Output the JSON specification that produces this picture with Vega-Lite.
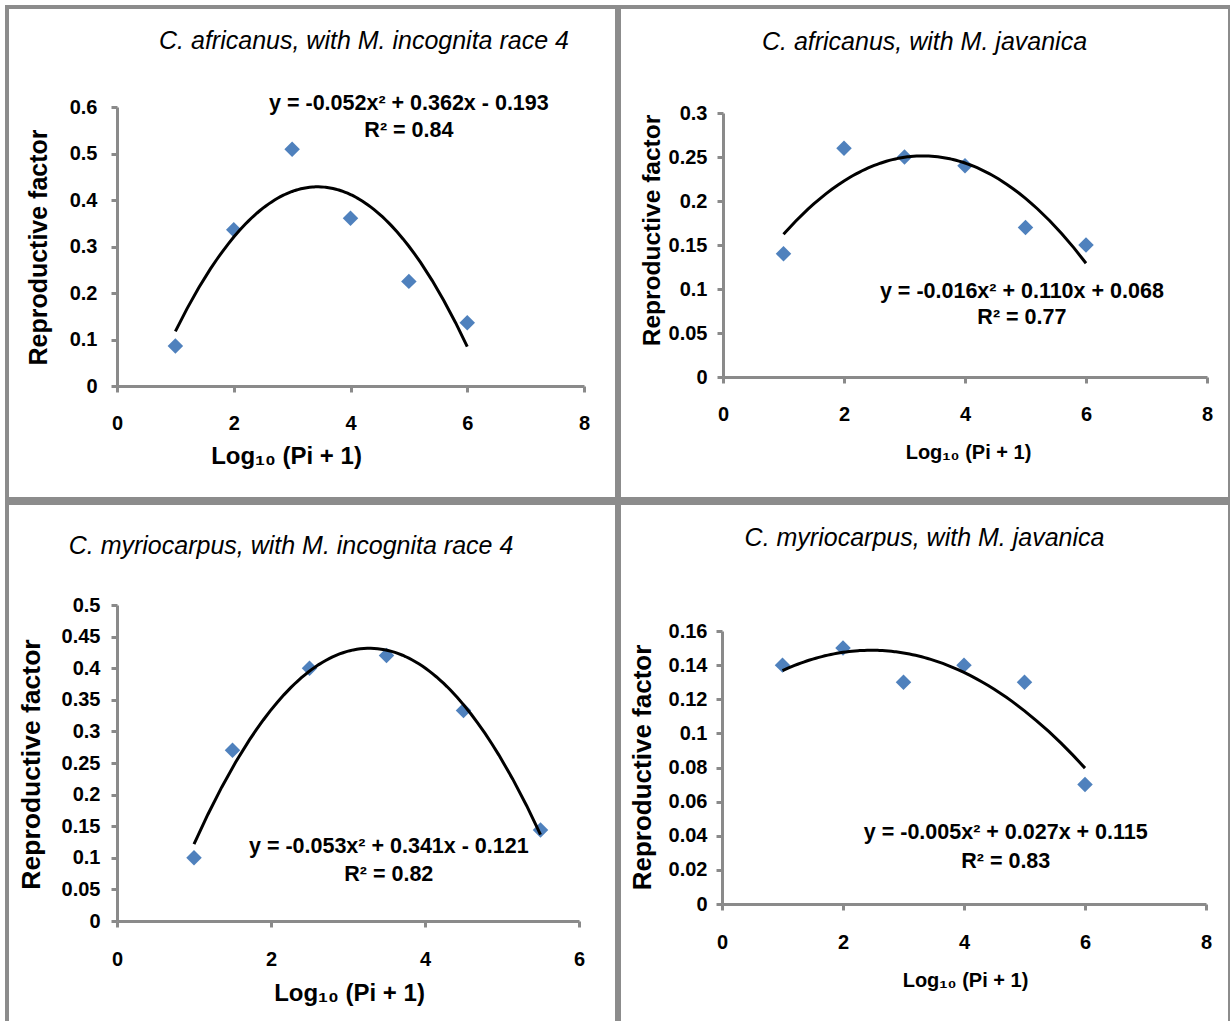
{
  "$schema": "https://vega.github.io/schema/vega-lite/v6.json",
  "background": "white",
  "padding": {"left": 5, "top": 5, "right": 0, "bottom": 0},
  "config": {
    "font": "Liberation Sans",
    "view": {"stroke": "#8c8c8c", "strokeWidth": 4},
    "axis": {
      "grid": false,
      "domainColor": "#8a8a8a", "domainWidth": 3,
      "tickColor": "#8a8a8a", "tickWidth": 3, "tickSize": 6,
      "labelFont": "Liberation Sans", "labelFontWeight": "bold", "labelFontSize": 20, "labelColor": "black", "labelFlush": false,
      "titleFont": "Liberation Sans", "titleFontWeight": "bold", "titleColor": "black",
      "titleBaseline": "middle", "titleAlign": "center"
    },
    "title": {"font": "Liberation Sans", "fontSize": 25, "fontStyle": "italic", "fontWeight": "normal", "color": "black", "baseline": "middle", "anchor": "middle", "frame": "group"}
  },
  "spacing": 0,
  "vconcat": [
    {
      "spacing": -4,
      "hconcat": [
        {
          "width": 610, "height": 492,
          "title": {"text": "C. africanus, with M. incognita race 4", "offset": -47, "dx": 52},
          "data": {"values": [
            {"x": 1, "rf": 0.086}, {"x": 2, "rf": 0.336}, {"x": 3, "rf": 0.509},
            {"x": 4, "rf": 0.361}, {"x": 5, "rf": 0.225}, {"x": 6, "rf": 0.136}
          ]},
          "layer": [
            {
              "mark": {"type": "point", "shape": "diamond", "filled": true, "color": "#4F81BD", "size": 240, "opacity": 1, "strokeWidth": 0},
              "encoding": {
                "x": {"field": "x", "type": "quantitative",
                  "scale": {"domain": [0, 8], "range": [110, 577], "nice": false, "zero": false},
                  "axis": {"values": [0, 2, 4, 6, 8], "format": "~g", "offset": -113, "labelPadding": 21,
                    "title": "Log₁₀ (Pi + 1)", "titleFontSize": 24, "titleX": 279, "titleY": 70}},
                "y": {"field": "rf", "type": "quantitative",
                  "scale": {"domain": [0, 0.6], "range": [379, 100], "nice": false, "zero": false},
                  "axis": {"values": [0, 0.1, 0.2, 0.3, 0.4, 0.5, 0.6], "format": "~g", "offset": -110, "labelPadding": 14,
                    "title": "Reproductive factor", "titleFontSize": 25, "titleAngle": -90, "titleX": -79, "titleY": 240}}
              }
            },
            {
              "transform": [{"regression": "rf", "on": "x", "method": "poly", "order": 2, "extent": [1, 6]}],
              "mark": {"type": "line", "color": "black", "strokeWidth": 3},
              "encoding": {"x": {"field": "x", "type": "quantitative"}, "y": {"field": "rf", "type": "quantitative"}}
            },
            {
              "data": {"values": [{}]},
              "mark": {"type": "text", "font": "Liberation Sans", "fontWeight": "bold", "fontSize": 21.5, "align": "center", "baseline": "middle", "lineHeight": 27, "color": "black"},
              "encoding": {"x": {"datum": 5}, "y": {"datum": 0.6065}, "text": {"value": ["y = -0.052x² + 0.362x - 0.193", "R² = 0.84"]}}
            }
          ]
        },
        {
          "width": 611, "height": 492,
          "title": {"text": "C. africanus, with M. javanica", "offset": -48, "dx": 0},
          "data": {"values": [
            {"x": 1, "rf": 0.14}, {"x": 2, "rf": 0.26}, {"x": 3, "rf": 0.25},
            {"x": 4, "rf": 0.24}, {"x": 5, "rf": 0.17}, {"x": 6, "rf": 0.15}
          ]},
          "layer": [
            {
              "mark": {"type": "point", "shape": "diamond", "filled": true, "color": "#4F81BD", "size": 240, "opacity": 1, "strokeWidth": 0},
              "encoding": {
                "x": {"field": "x", "type": "quantitative",
                  "scale": {"domain": [0, 8], "range": [104, 588], "nice": false, "zero": false},
                  "axis": {"values": [0, 2, 4, 6, 8], "format": "~g", "offset": -122, "labelPadding": 21,
                    "title": "Log₁₀ (Pi + 1)", "titleFontSize": 20, "titleX": 349, "titleY": 75}},
                "y": {"field": "rf", "type": "quantitative",
                  "scale": {"domain": [0, 0.3], "range": [370, 106], "nice": false, "zero": false},
                  "axis": {"values": [0, 0.05, 0.1, 0.15, 0.2, 0.25, 0.3], "format": "~g", "offset": -104, "labelPadding": 10,
                    "title": "Reproductive factor", "titleFontSize": 24.5, "titleAngle": -90, "titleX": -71, "titleY": 223}}
              }
            },
            {
              "transform": [{"regression": "rf", "on": "x", "method": "poly", "order": 2, "extent": [1, 6]}],
              "mark": {"type": "line", "color": "black", "strokeWidth": 3},
              "encoding": {"x": {"field": "x", "type": "quantitative"}, "y": {"field": "rf", "type": "quantitative"}}
            },
            {
              "data": {"values": [{}]},
              "mark": {"type": "text", "font": "Liberation Sans", "fontWeight": "bold", "fontSize": 21.5, "align": "center", "baseline": "middle", "lineHeight": 26, "color": "black"},
              "encoding": {"x": {"datum": 4.94}, "y": {"datum": 0.0966}, "text": {"value": ["y = -0.016x² + 0.110x + 0.068", "R² = 0.77"]}}
            }
          ]
        }
      ]
    },
    {
      "spacing": -4,
      "hconcat": [
        {
          "width": 610, "height": 522,
          "title": {"text": "C. myriocarpus, with M. incognita race 4", "offset": -56, "dx": -21},
          "data": {"values": [
            {"x": 1, "rf": 0.10}, {"x": 1.5, "rf": 0.27}, {"x": 2.5, "rf": 0.40},
            {"x": 3.5, "rf": 0.42}, {"x": 4.5, "rf": 0.333}, {"x": 5.5, "rf": 0.144}
          ]},
          "layer": [
            {
              "mark": {"type": "point", "shape": "diamond", "filled": true, "color": "#4F81BD", "size": 240, "opacity": 1, "strokeWidth": 0},
              "encoding": {
                "x": {"field": "x", "type": "quantitative",
                  "scale": {"domain": [0, 6], "range": [110, 572], "nice": false, "zero": false},
                  "axis": {"values": [0, 2, 4, 6], "format": "~g", "offset": -104, "labelPadding": 22,
                    "title": "Log₁₀ (Pi + 1)", "titleFontSize": 24, "titleX": 342, "titleY": 72}},
                "y": {"field": "rf", "type": "quantitative",
                  "scale": {"domain": [0, 0.5], "range": [418, 102], "nice": false, "zero": false},
                  "axis": {"values": [0, 0.05, 0.1, 0.15, 0.2, 0.25, 0.3, 0.35, 0.4, 0.45, 0.5], "format": "~g", "offset": -110, "labelPadding": 11,
                    "title": "Reproductive factor", "titleFontSize": 26.5, "titleAngle": -90, "titleX": -86, "titleY": 261}}
              }
            },
            {
              "transform": [{"regression": "rf", "on": "x", "method": "poly", "order": 2, "extent": [1, 5.5]}],
              "mark": {"type": "line", "color": "black", "strokeWidth": 3},
              "encoding": {"x": {"field": "x", "type": "quantitative"}, "y": {"field": "rf", "type": "quantitative"}}
            },
            {
              "data": {"values": [{}]},
              "mark": {"type": "text", "font": "Liberation Sans", "fontWeight": "bold", "fontSize": 21.5, "align": "center", "baseline": "middle", "lineHeight": 28, "color": "black"},
              "encoding": {"x": {"datum": 3.53}, "y": {"datum": 0.117}, "text": {"value": ["y = -0.053x² + 0.341x - 0.121", "R² = 0.82"]}}
            }
          ]
        },
        {
          "width": 611, "height": 522,
          "title": {"text": "C. myriocarpus, with M. javanica", "offset": -48, "dx": 0},
          "data": {"values": [
            {"x": 1, "rf": 0.14}, {"x": 2, "rf": 0.15}, {"x": 3, "rf": 0.13},
            {"x": 4, "rf": 0.14}, {"x": 5, "rf": 0.13}, {"x": 6, "rf": 0.07}
          ]},
          "layer": [
            {
              "mark": {"type": "point", "shape": "diamond", "filled": true, "color": "#4F81BD", "size": 240, "opacity": 1, "strokeWidth": 0},
              "encoding": {
                "x": {"field": "x", "type": "quantitative",
                  "scale": {"domain": [0, 8], "range": [103, 587], "nice": false, "zero": false},
                  "axis": {"values": [0, 2, 4, 6, 8], "format": "~g", "offset": -121, "labelPadding": 22,
                    "title": "Log₁₀ (Pi + 1)", "titleFontSize": 20, "titleX": 346, "titleY": 76}},
                "y": {"field": "rf", "type": "quantitative",
                  "scale": {"domain": [0, 0.16], "range": [401, 128], "nice": false, "zero": false},
                  "axis": {"values": [0, 0.02, 0.04, 0.06, 0.08, 0.1, 0.12, 0.14, 0.16], "format": "~g", "offset": -103, "labelPadding": 9,
                    "title": "Reproductive factor", "titleFontSize": 26, "titleAngle": -90, "titleX": -80, "titleY": 264}}
              }
            },
            {
              "transform": [{"regression": "rf", "on": "x", "method": "poly", "order": 2, "extent": [1, 6]}],
              "mark": {"type": "line", "color": "black", "strokeWidth": 3},
              "encoding": {"x": {"field": "x", "type": "quantitative"}, "y": {"field": "rf", "type": "quantitative"}}
            },
            {
              "data": {"values": [{}]},
              "mark": {"type": "text", "font": "Liberation Sans", "fontWeight": "bold", "fontSize": 21.5, "align": "center", "baseline": "middle", "lineHeight": 29, "color": "black"},
              "encoding": {"x": {"datum": 4.69}, "y": {"datum": 0.0416}, "text": {"value": ["y = -0.005x² + 0.027x + 0.115", "R² = 0.83"]}}
            }
          ]
        }
      ]
    }
  ]
}
